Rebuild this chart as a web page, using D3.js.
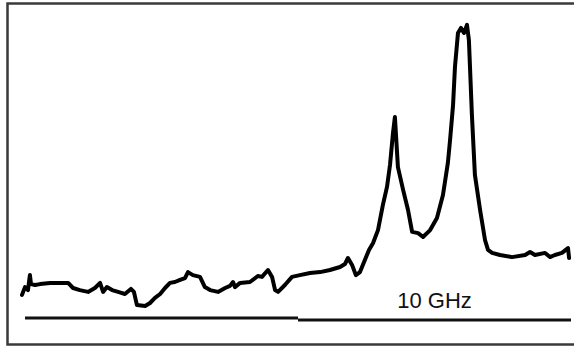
<!DOCTYPE html>
<html>
<head>
<meta charset="utf-8">
<script src="https://cdn.jsdelivr.net/npm/d3@7"></script>
<style>
  html, body { margin: 0; padding: 0; background: #fff; }
  svg { display: block; }
</style>
</head>
<body>
<svg id="chart" width="574" height="347"></svg>
<script>
// Frequency (GHz) of each traced point
const freqGHz = [-0.11,0,0.11,0.18,0.22,0.37,0.55,0.92,1.28,1.58,1.76,2.01,2.31,2.56,2.75,2.86,3.00,3.19,3.41,3.66,3.88,3.99,4.10,4.40,4.58,4.76,4.95,5.13,5.31,5.49,5.68,5.86,5.97,6.15,6.41,6.59,6.78,7.07,7.33,7.51,7.62,7.69,7.88,8.24,8.53,8.68,8.90,9.05,9.16,9.27,9.52,9.78,10.07,10.44,10.81,11.17,11.54,11.72,11.83,11.98,12.12,12.27,12.45,12.60,12.75,12.93,13.11,13.26,13.37,13.48,13.55,13.66,13.85,14.03,14.18,14.40,14.58,14.84,15.09,15.31,15.49,15.57,15.68,15.75,15.86,15.97,16.08,16.19,16.26,16.30,16.37,16.48,16.67,16.85,16.96,17.11,17.40,17.84,18.32,18.50,18.68,19.05,19.23,19.41,19.67,19.89,19.93];
// Intensity (arbitrary units)
const intensity = [1.7,4.3,3.3,8.3,5.3,5,5.3,5.7,5.7,5.7,4,3.3,2.7,4,5.7,2.7,4.3,3.3,2.7,2,3.7,2.7,-1.7,-2,-1,0.7,2,4,5.7,6,6.7,7.3,9.3,8.3,7.7,4.3,3.3,2.7,4,4.7,6,4.3,5.7,6,8,7.7,10,7.7,3.3,2.7,5,7.7,8.3,9,9.3,10,11,12,14,11.7,8.3,9.3,13.3,16.7,19,23.3,31.7,37.7,45,55.7,61,44.3,36.7,30,22.7,22.3,21,23.3,27.3,35,45.7,53.3,65,77.7,89,90.7,89,91.7,86.7,77.7,61.7,41.7,30,20,16.7,15.7,15,14.3,15,16,15,15.7,14.3,15,15.7,17.3,14];
// Scale bar segments (GHz)
const scaleStart = [0, 10];
const scaleEnd = [10, 20];
const scaleLabel = "10 GHz";

const svg = d3.select("#chart");
const x = d3.scaleLinear().domain([0, 20]).range([25, 571]);
const y = d3.scaleLinear().domain([0, 100]).range([300, 0]);

// frame
svg.append("rect")
  .attr("x", 7.5).attr("y", 3.5)
  .attr("width", 600).attr("height", 341)
  .attr("fill", "none")
  .attr("stroke", "#3a3a3a")
  .attr("stroke-width", 2.5);

const data = freqGHz.map((f, i) => ({ f, v: intensity[i] }));
const line = d3.line().x(d => x(d.f)).y(d => y(d.v));

svg.append("path")
  .datum(data)
  .attr("d", line)
  .attr("fill", "none")
  .attr("stroke", "#000")
  .attr("stroke-width", 4)
  .attr("stroke-linejoin", "round")
  .attr("stroke-linecap", "round");

// scale bar
const barY = [318, 320];
scaleStart.forEach((s, i) => {
  svg.append("line")
    .attr("x1", x(s)).attr("x2", x(scaleEnd[i]))
    .attr("y1", barY[i]).attr("y2", barY[i])
    .attr("stroke", "#111")
    .attr("stroke-width", 3);
});

svg.append("text")
  .attr("x", (x(scaleStart[1]) + x(scaleEnd[1])) / 2)
  .attr("y", 308)
  .attr("text-anchor", "middle")
  .attr("font-family", "Liberation Sans, Arial, sans-serif")
  .attr("font-size", 22)
  .attr("fill", "#111")
  .text(scaleLabel);
</script>
</body>
</html>
